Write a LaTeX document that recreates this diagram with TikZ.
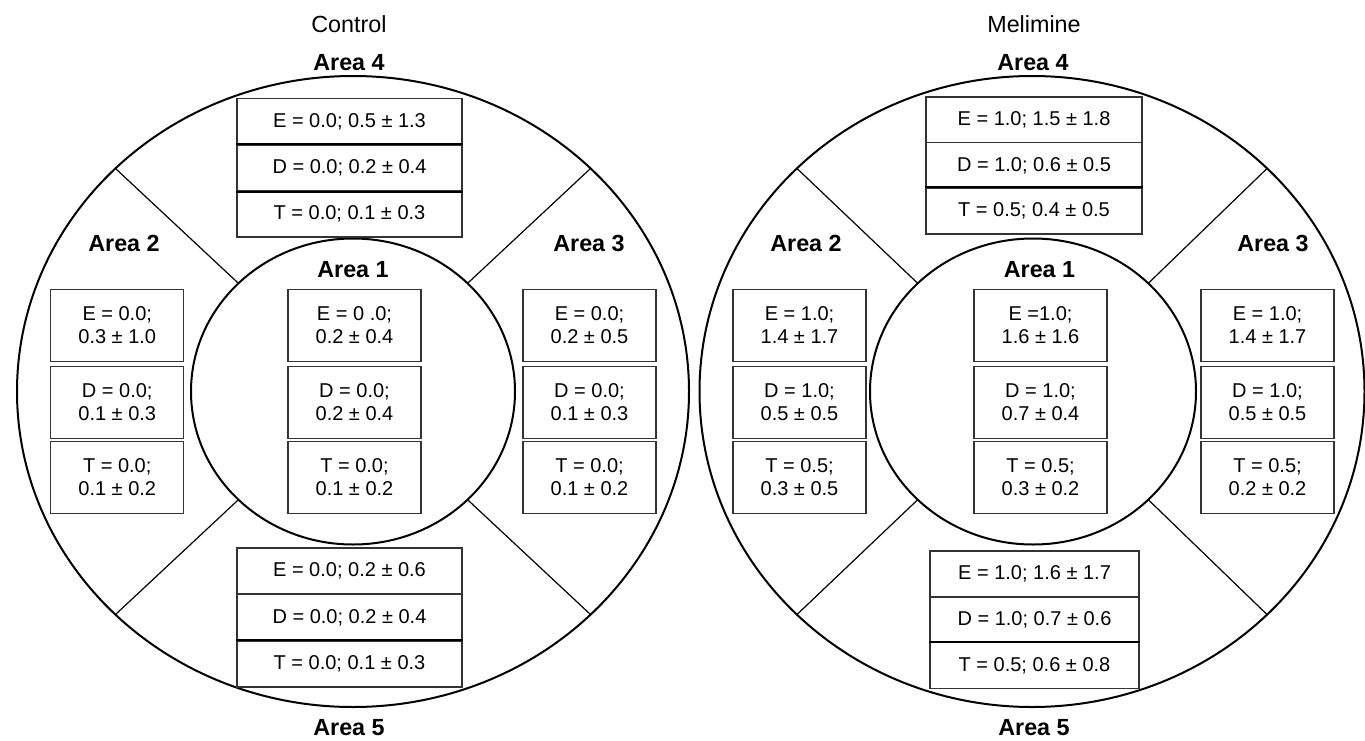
\documentclass[tikz,border=0pt]{standalone}
\usepackage{fontspec}
\setmainfont{Liberation Sans}
\begin{document}
\begin{tikzpicture}[x=0.75pt,y=-0.75pt,
  ring/.style={line width=1.5pt, draw=black},
  divider/.style={line width=0.9pt, draw=black},
  cell/.style={draw=black!80, line width=0.8pt, fill=white, inner sep=0pt, align=center,
    font=\fontsize{15}{17.25}\selectfont},
  wideL/.style={cell, minimum width=168.75pt, minimum height=34.5pt},
  wideRT/.style={cell, minimum width=162pt, minimum height=34.5pt},
  wideRB/.style={cell, minimum width=156.75pt, minimum height=34.5pt},
  small/.style={cell, minimum width=99.75pt, minimum height=54pt},
  sep/.style={line width=1.5pt, draw=black},
  title/.style={inner sep=0pt, font=\fontsize{17.5}{21}\selectfont},
  area/.style={inner sep=0pt, font=\bfseries\fontsize{17.5}{21}\selectfont}
]
\useasboundingbox (0,0) rectangle (1365,740);

% ---------------- Control (left) ----------------
\coordinate (cL) at (353,391.5);
\draw[ring] (cL) ellipse [x radius=252pt, y radius=236.625pt];
\draw[ring] (cL) ellipse [x radius=121.5pt, y radius=114.75pt];

\coordinate (lo1) at (115.4,168.4);  \coordinate (li1) at (238.4,283.3);
\coordinate (lo2) at (590.6,168.4);  \coordinate (li2) at (467.6,283.3);
\coordinate (lo3) at (115.4,614.6);  \coordinate (li3) at (238.4,499.7);
\coordinate (lo4) at (590.6,614.6);  \coordinate (li4) at (467.6,499.7);
\draw[divider] (lo1) -- (li1);
\draw[divider] (lo2) -- (li2);
\draw[divider] (lo3) -- (li3);
\draw[divider] (lo4) -- (li4);

\node[title] (lTitle) at (349,24) {Control};
\node[area] (lA4) at (349,63) {Area 4};
\node[area] (lA2) at (124,243) {Area 2};
\node[area] (lA3) at (589,243) {Area 3};
\node[area] (lA1) at (353,270) {Area 1};
\node[area] (lA5) at (349,727.5) {Area 5};

% Area 4
\node[wideL] (lE4) at (349.5,121.5) {E = 0.0; 0.5 ± 1.3};
\node[wideL] (lD4) at (349.5,168) {D = 0.0; 0.2 ± 0.4};
\node[wideL] (lT4) at (349.5,214) {T = 0.0; 0.1 ± 0.3};
\draw[sep] (lD4.north west) -- (lD4.north east);
\draw[sep] (lD4.south west) -- (lD4.south east);
% Area 2
\node[small] (lE2) at (117.25,325.5) {E = 0.0;\\0.3 ± 1.0};
\node[small] (lD2) at (117.25,402.5) {D = 0.0;\\0.1 ± 0.3};
\node[small] (lT2) at (117.25,477.5) {T = 0.0;\\0.1 ± 0.2};
% Area 1
\node[small] (lE1) at (354.5,325.5) {E = 0 .0;\\0.2 ± 0.4};
\node[small] (lD1) at (354.5,402.5) {D = 0.0;\\0.2 ± 0.4};
\node[small] (lT1) at (354.5,477.5) {T = 0.0;\\0.1 ± 0.2};
% Area 3
\node[small] (lE3) at (589.5,325.5) {E = 0.0;\\0.2 ± 0.5};
\node[small] (lD3) at (589.5,402.5) {D = 0.0;\\0.1 ± 0.3};
\node[small] (lT3) at (589.5,477.5) {T = 0.0;\\0.1 ± 0.2};
% Area 5
\node[wideL] (lE5) at (349.5,571) {E = 0.0; 0.2 ± 0.6};
\node[wideL] (lD5) at (349.5,617.5) {D = 0.0; 0.2 ± 0.4};
\node[wideL] (lT5) at (349.5,664) {T = 0.0; 0.1 ± 0.3};
\draw[sep] (lT5.north west) -- (lT5.north east);

% ---------------- Melimine (right) ----------------
\coordinate (cR) at (1032,391.5);
\coordinate (cRi) at (1033,391.5);
\draw[ring] (cR) ellipse [x radius=249.375pt, y radius=236.625pt];
\draw[ring] (cRi) ellipse [x radius=122.25pt, y radius=114.75pt];

\coordinate (ro1) at (796.9,168.4);   \coordinate (ri1) at (917.7,283.3);
\coordinate (ro2) at (1267.1,168.4);  \coordinate (ri2) at (1148.3,283.3);
\coordinate (ro3) at (796.9,614.6);   \coordinate (ri3) at (917.7,499.7);
\coordinate (ro4) at (1267.1,614.6);  \coordinate (ri4) at (1148.3,499.7);
\draw[divider] (ro1) -- (ri1);
\draw[divider] (ro2) -- (ri2);
\draw[divider] (ro3) -- (ri3);
\draw[divider] (ro4) -- (ri4);

\node[title] (rTitle) at (1034,24) {Melimine};
\node[area] (rA4) at (1033,63) {Area 4};
\node[area] (rA2) at (806,243) {Area 2};
\node[area] (rA3) at (1273,243) {Area 3};
\node[area] (rA1) at (1039.5,270) {Area 1};
\node[area] (rA5) at (1034,727.5) {Area 5};

% Area 4
\node[wideRT] (rE4) at (1034,120) {E = 1.0; 1.5 ± 1.8};
\node[wideRT] (rD4) at (1034,165.5) {D = 1.0; 0.6 ± 0.5};
\node[wideRT] (rT4) at (1034,211) {T = 0.5; 0.4 ± 0.5};
\draw[sep] (rT4.north west) -- (rT4.north east);
% Area 2
\node[small] (rE2) at (799.5,325.5) {E = 1.0;\\1.4 ± 1.7};
\node[small] (rD2) at (799.5,402.5) {D = 1.0;\\0.5 ± 0.5};
\node[small] (rT2) at (799.5,477.5) {T = 0.5;\\0.3 ± 0.5};
% Area 1
\node[small] (rE1) at (1040.5,325.5) {E =1.0;\\1.6 ± 1.6};
\node[small] (rD1) at (1040.5,402.5) {D = 1.0;\\0.7 ± 0.4};
\node[small] (rT1) at (1040.5,477.5) {T = 0.5;\\0.3 ± 0.2};
% Area 3
\node[small] (rE3) at (1267.5,325.5) {E = 1.0;\\1.4 ± 1.7};
\node[small] (rD3) at (1267.5,402.5) {D = 1.0;\\0.5 ± 0.5};
\node[small] (rT3) at (1267.5,477.5) {T = 0.5;\\0.2 ± 0.2};
% Area 5
\node[wideRB] (rE5) at (1034.5,574) {E = 1.0; 1.6 ± 1.7};
\node[wideRB] (rD5) at (1034.5,620) {D = 1.0; 0.7 ± 0.6};
\node[wideRB] (rT5) at (1034.5,665.5) {T = 0.5; 0.6 ± 0.8};
\draw[sep] (rT5.north west) -- (rT5.north east);
\end{tikzpicture}
\end{document}
